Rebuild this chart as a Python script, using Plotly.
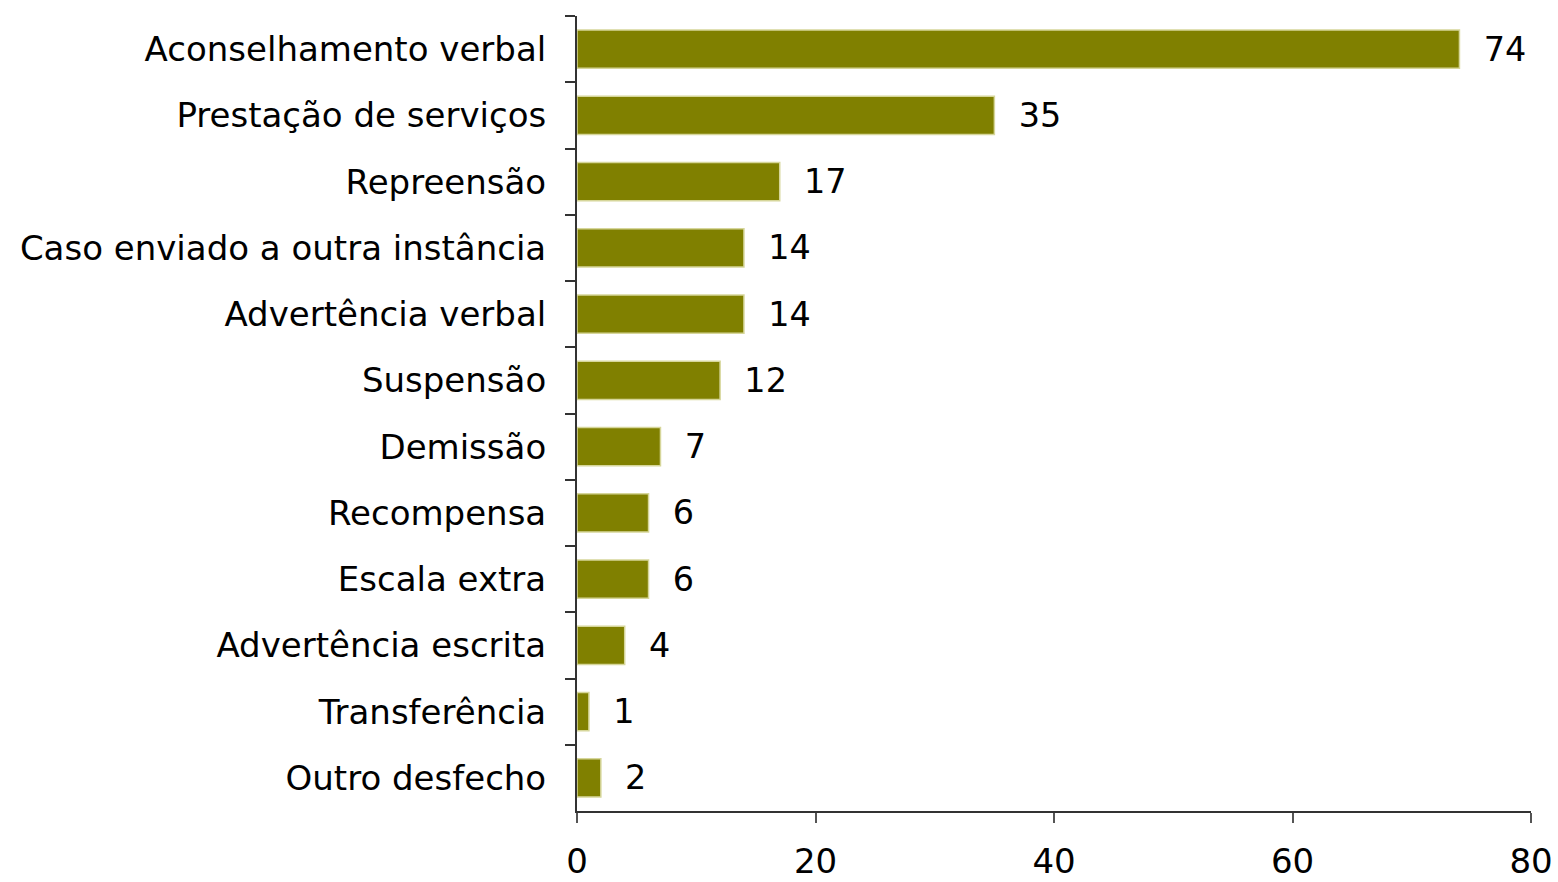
import plotly.graph_objects as go

categories = [
    "Aconselhamento verbal",
    "Prestação de serviços",
    "Repreensão",
    "Caso enviado a outra instância",
    "Advertência verbal",
    "Suspensão",
    "Demissão",
    "Recompensa",
    "Escala extra",
    "Advertência escrita",
    "Transferência",
    "Outro desfecho",
]
values = [74, 35, 17, 14, 14, 12, 7, 6, 6, 4, 1, 2]
x_ticks = [0, 20, 40, 60, 80]

FONT = "DejaVu Sans"

fig = go.Figure(
    go.Bar(
        x=values,
        y=categories,
        orientation="h",
        marker=dict(color="#808000", line=dict(color="#d6d69a", width=1.5)),
        text=values,
        texttemplate="\u00a0\u00a0%{x}",
        textposition="outside",
        textfont=dict(family=FONT, size=36, color="#000000"),
        cliponaxis=False,
        hoverinfo="skip",
    )
)

fig.update_layout(
    width=1558,
    height=882,
    margin=dict(l=577, r=27, t=16, b=71, autoexpand=False),
    paper_bgcolor="white",
    plot_bgcolor="white",
    bargap=0.425,
    showlegend=False,
    font=dict(family=FONT, size=34, color="#000000"),
)

fig.update_xaxes(
    range=[0, 80],
    tickvals=x_ticks,
    showgrid=False,
    zeroline=False,
    showline=True,
    linecolor="#333333",
    linewidth=2,
    ticks="outside",
    ticklen=10,
    tickwidth=2,
    tickcolor="#555555",
    ticklabelstandoff=9,
    ticklabeloverflow="allow",
    automargin=False,
    tickfont=dict(family=FONT, size=34, color="#000000"),
)

fig.update_yaxes(
    autorange="reversed",
    type="category",
    showgrid=False,
    zeroline=False,
    showline=True,
    linecolor="#333333",
    linewidth=2,
    ticks="outside",
    tickson="boundaries",
    ticklen=10,
    tickwidth=2,
    tickcolor="#333333",
    ticklabelstandoff=22,
    automargin=False,
    tickfont=dict(family=FONT, size=34, color="#000000"),
)

fig.write_html(
    "out.html",
    config={"displayModeBar": False},
    post_script="document.body.style.margin='0px';document.body.style.overflow='hidden';",
)
